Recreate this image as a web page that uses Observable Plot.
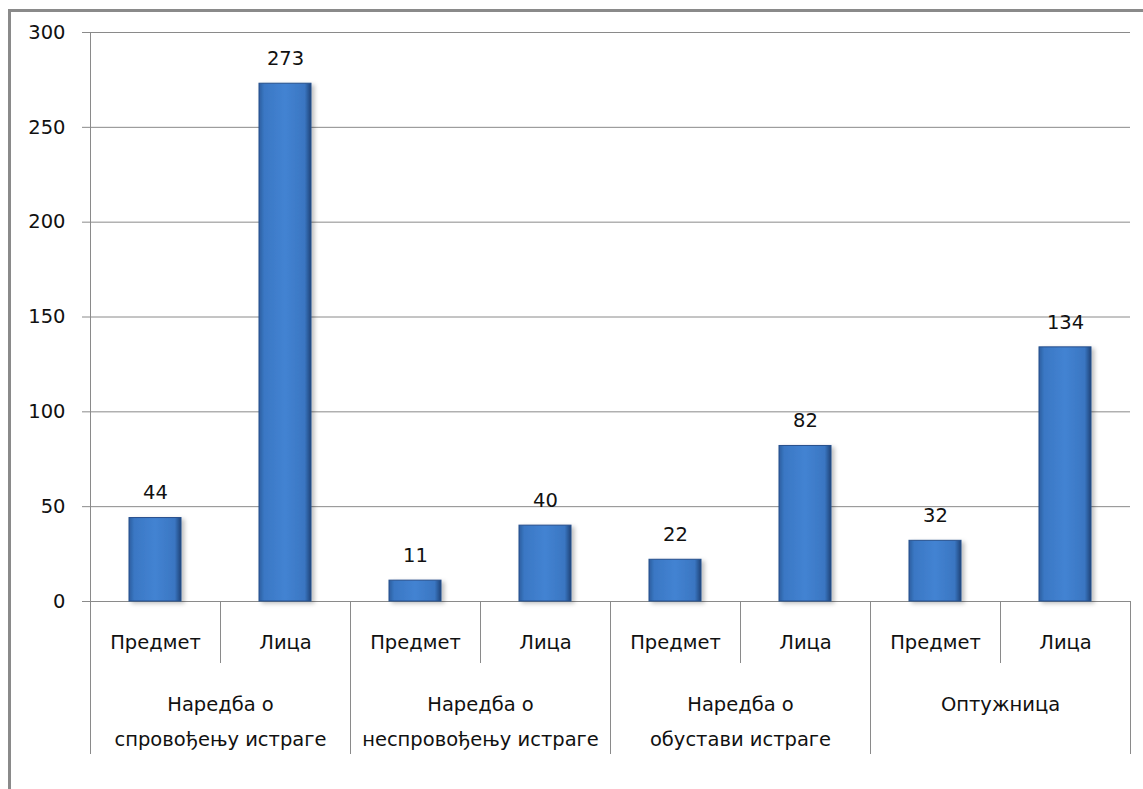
<!DOCTYPE html>
<html>
<head>
<meta charset="utf-8">
<script src="https://cdn.jsdelivr.net/npm/d3@7"></script>
<script src="https://cdn.jsdelivr.net/npm/@observablehq/plot@0.6"></script>
<style>
  html, body { margin: 0; padding: 0; background: #fff; }
  #wrap { position: relative; width: 1143px; height: 789px; overflow: hidden; }
  #frame { position: absolute; left: 8px; top: 9px; width: 1200px; height: 900px;
           border-left: 3px solid #8a8a8a; border-top: 3px solid #8a8a8a; box-sizing: border-box; }
  #chart { position: absolute; left: 0; top: 0; }
</style>
</head>
<body>
<div id="wrap"><div id="frame"></div><div id="chart"></div></div>
<script>
const groups = ["Наредба о\nспровођењу истраге", "Наредба о\nнеспровођењу истраге", "Наредба о\nобустави истраге", "Оптужница"];
const subs = ["Предмет", "Лица"];
const values = [[44, 273], [11, 40], [22, 82], [32, 134]];
const yTicks = [0, 50, 100, 150, 200, 250, 300];

const data = [];
groups.forEach((g, gi) => subs.forEach((s, si) => data.push({group: g, sub: s, key: gi + "|" + s, value: values[gi][si]})));
const keys = data.map(d => d.key);
const firstKeys = data.filter(d => d.sub === subs[0]);
const lastKeys = data.filter(d => d.sub === subs[1]);
const groupRows = lastKeys;

const font = "DejaVu Sans, sans-serif";
const fs = 19.5;

const plot = Plot.plot({
  width: 1143,
  height: 789,
  marginTop: 32,
  marginBottom: 188,
  marginLeft: 90,
  marginRight: 13,
  style: {fontFamily: font, fontSize: fs + "px", color: "#111", background: "transparent"},
  x: {domain: keys, paddingInner: 0.6, paddingOuter: 0.3, axis: null},
  y: {domain: [0, 300], ticks: yTicks, axis: null, label: null},
  marks: [
    Plot.gridY(yTicks, {stroke: "#8a8a8a", strokeOpacity: 1, insetLeft: -8}),
    Plot.axisY(yTicks, {tickSize: 0, tickPadding: 25, fontSize: fs, fill: "#111", anchor: "left", label: null, tickFormat: d => String(d)}),
    // axis line
    Plot.ruleX([firstKeys[0]], {x: "key", dx: -65, stroke: "#8a8a8a", insetBottom: -153}),
    // outer separators
    Plot.ruleX(firstKeys.slice(1), {x: "key", dx: -65, stroke: "#8a8a8a", insetTop: 569, insetBottom: -153}),
    Plot.ruleX([lastKeys[lastKeys.length - 1]], {x: "key", dx: 65, stroke: "#8a8a8a", insetTop: 569, insetBottom: -153}),
    // inner separators
    Plot.ruleX(lastKeys, {x: "key", dx: -65, stroke: "#8a8a8a", insetTop: 569, insetBottom: -62}),
    Plot.barY(data, {x: "key", y: "value", fill: "url(#barGrad)", stroke: "#264f8c", strokeWidth: 1}),
    Plot.tickY(data, {x: "key", y: "value", dy: 4, stroke: "url(#topGrad)", strokeWidth: 7, insetLeft: 4, insetRight: 4}),
    Plot.text(data, {x: "key", y: "value", text: d => String(d.value), dy: -25, fontSize: fs, fill: "#111"}),
    Plot.text(data, {x: "key", y: () => 0, text: "sub", dy: 41, fontSize: fs, fill: "#111"}),
    Plot.text(groupRows, {x: "key", y: () => 0, text: "group", dx: -65, dy: 85, lineAnchor: "top", lineHeight: 35 / fs, fontSize: fs, fill: "#111"})
  ]
});

plot.insertAdjacentHTML("afterbegin", `
<defs>
  <linearGradient id="barGrad" x1="0" x2="1" y1="0" y2="0">
    <stop offset="0" stop-color="#2c5e9f"/>
    <stop offset="0.1" stop-color="#3a77c4"/>
    <stop offset="0.5" stop-color="#4383d2"/>
    <stop offset="0.88" stop-color="#3a76c2"/>
    <stop offset="1" stop-color="#1f4478"/>
  </linearGradient>
  <linearGradient id="topGrad" x1="0" x2="1" y1="0" y2="0">
    <stop offset="0" stop-color="#5a97e0"/>
    <stop offset="0.5" stop-color="#74aef0"/>
    <stop offset="1" stop-color="#5a97e0"/>
  </linearGradient>
  <filter id="shadow" x="-20%" y="-20%" width="140%" height="140%">
    <feDropShadow dx="3" dy="2" stdDeviation="2" flood-color="#000" flood-opacity="0.25"/>
  </filter>
</defs>`);
const barG = plot.querySelector('g[aria-label="bar"]');
if (barG) barG.setAttribute("filter", "url(#shadow)");
document.getElementById("chart").appendChild(plot);
</script>
</body>
</html>
